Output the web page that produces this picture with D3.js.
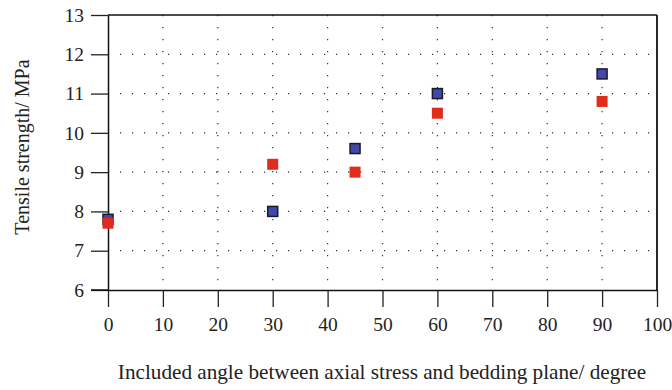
<!DOCTYPE html>
<html><head><meta charset="utf-8">
<script src="https://cdn.jsdelivr.net/npm/d3@7"></script>
<style>body{margin:0;background:#fff}svg{display:block}</style>
</head><body>
<svg id="c" width="672" height="390"></svg>
<script>
const angles = [0, 30, 45, 60, 90];
const seriesBlue = [7.8, 8.0, 9.6, 11.0, 11.5];
const seriesRed = [7.7, 9.2, 9.0, 10.5, 10.8];
const xTicks = [0,10,20,30,40,50,60,70,80,90,100];
const yTicks = [6,7,8,9,10,11,12,13];

const svg = d3.select("#c");
const L=108, R=657, T=15, B=290;
const x = d3.scaleLinear().domain([0,100]).range([L,R]);
const y = d3.scaleLinear().domain([6,13]).range([B,T]);
const font = "'Liberation Serif','DejaVu Serif',serif";

// grid
const g = svg.append("g");
g.selectAll(".hg").data(yTicks.filter(d=>d>6&&d<13)).join("line")
  .attr("x1",L).attr("x2",R).attr("y1",d=>y(d)).attr("y2",d=>y(d))
  .attr("stroke","#333").attr("stroke-width",1.2).attr("stroke-dasharray","1.2,10.8");
g.selectAll(".vg").data(xTicks.filter(d=>d>0&&d<100)).join("line")
  .attr("x1",d=>x(d)).attr("x2",d=>x(d)).attr("y1",T).attr("y2",B)
  .attr("stroke","#333").attr("stroke-width",1.2).attr("stroke-dasharray","1.2,10.8");

// axes
const xAx = svg.append("g").attr("transform",`translate(0,${B})`)
  .call(d3.axisBottom(x).tickValues(xTicks).tickFormat(d3.format("d")).tickSize(17).tickSizeOuter(0).tickPadding(10));
const yAx = svg.append("g").attr("transform",`translate(${L},0)`)
  .call(d3.axisLeft(y).tickValues(yTicks).tickFormat(d3.format("d")).tickSize(17).tickSizeOuter(0).tickPadding(7));
[xAx,yAx].forEach(a=>{
  a.attr("font-family",font).attr("font-size",19.5);
  a.select(".domain").attr("stroke","#111").attr("stroke-width",1.5);
  a.selectAll(".tick line").attr("stroke","#222").attr("stroke-width",1.3);
  a.selectAll("text").attr("fill","#222");
});
// border top/right
svg.append("line").attr("x1",L).attr("x2",R).attr("y1",T).attr("y2",T).attr("stroke","#111").attr("stroke-width",1.5);
svg.append("line").attr("x1",R).attr("x2",R).attr("y1",T).attr("y2",B).attr("stroke","#111").attr("stroke-width",1.8);
svg.append("line").attr("x1",x(0)-17).attr("x2",L).attr("y1",B).attr("y2",B).attr("stroke","#111").attr("stroke-width",1.5);

// markers
const s = 10;
svg.append("g").selectAll("rect").data(angles.map((a,i)=>[a,seriesBlue[i]])).join("rect")
  .attr("x",d=>x(d[0])-s/2).attr("y",d=>y(d[1])-s/2).attr("width",s).attr("height",s)
  .attr("fill","#4048a8").attr("stroke","#1a1a2a").attr("stroke-width",1.5);
svg.append("g").selectAll("rect").data(angles.map((a,i)=>[a,seriesRed[i]])).join("rect")
  .attr("x",d=>x(d[0])-s/2-0.5).attr("y",d=>y(d[1])-s/2-0.5).attr("width",s+1).attr("height",s+1)
  .attr("fill","#e02c1c");

// titles
svg.append("text").attr("x",382).attr("y",379).attr("text-anchor","middle")
  .attr("font-family",font).attr("font-size",21.2).attr("fill","#222")
  .text("Included angle between axial stress and bedding plane/ degree");
svg.append("text").attr("transform","translate(29,147) rotate(-90)").attr("text-anchor","middle")
  .attr("font-family",font).attr("font-size",20).attr("fill","#222")
  .text("Tensile strength/ MPa");
</script>
</body></html>
